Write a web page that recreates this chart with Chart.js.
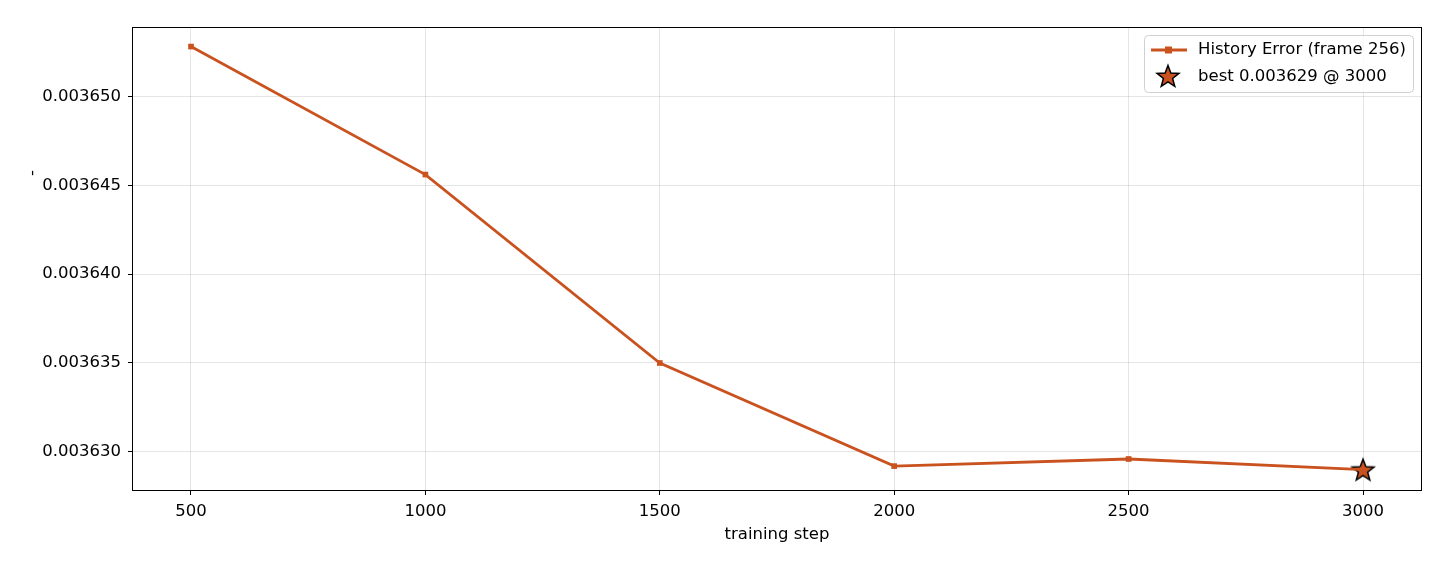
<!DOCTYPE html>
<html>
<head>
<meta charset="utf-8">
<script src="https://cdn.jsdelivr.net/npm/chart.js@4"></script>
<style>
  html, body { margin: 0; padding: 0; background: #fff; }
  #wrap { width: 1440px; height: 563px; }
</style>
</head>
<body>
<div id="wrap"><canvas id="chart" width="1440" height="563"></canvas></div>
<script>
const steps = [500, 1000, 1500, 2000, 2500, 3000];
const historyError = [0.0036528, 0.0036456, 0.003635, 0.0036292, 0.0036296, 0.003629];
const bestStep = 3000;
const bestValue = 0.003629;
const xTicks = [500, 1000, 1500, 2000, 2500, 3000];
const yTicks = [0.00363, 0.003635, 0.00364, 0.003645, 0.00365];

const lineColor = '#c9521f';
const font = 'DejaVu Sans';
const fontSize = 16.5;
Chart.defaults.font.family = font;
Chart.defaults.font.size = fontSize;
Chart.defaults.color = '#000';

// filled star used for the "best" point
function makeStar(size) {
  const c = document.createElement('canvas');
  c.width = size; c.height = size;
  const g = c.getContext('2d');
  const cx = size / 2, cy = size / 2 + 1, R = size / 2 - 1.5, r = R * 0.42;
  g.beginPath();
  for (let i = 0; i < 10; i++) {
    const rad = i % 2 === 0 ? R : r;
    const a = -Math.PI / 2 + i * Math.PI / 5;
    g.lineTo(cx + rad * Math.cos(a), cy + rad * Math.sin(a));
  }
  g.closePath();
  g.fillStyle = lineColor;
  g.fill();
  g.lineWidth = 1.5;
  g.strokeStyle = '#000';
  g.stroke();
  return c;
}
const star = makeStar(26);

const frame = {
  id: 'frame',
  afterDraw(chart) {
    const { ctx, chartArea: a } = chart;
    ctx.save();
    ctx.strokeStyle = '#000';
    ctx.lineWidth = 1;
    ctx.strokeRect(a.left + 0.5, a.top + 0.5, a.right - a.left - 1, a.bottom - a.top - 1);

    // y label
    ctx.save();
    ctx.translate(33, 173);
    ctx.rotate(-Math.PI / 2);
    ctx.font = fontSize + 'px ' + font;
    ctx.textAlign = 'center';
    ctx.textBaseline = 'middle';
    ctx.fillStyle = '#000';
    ctx.fillText('-', 0, 0);
    ctx.restore();

    // legend
    const lx = 1144, ly = 35, lw = 269, lh = 57;
    ctx.beginPath();
    ctx.roundRect(lx + 0.5, ly + 0.5, lw, lh, 4);
    ctx.fillStyle = 'rgba(255,255,255,0.8)';
    ctx.fill();
    ctx.strokeStyle = '#d0d0d0';
    ctx.stroke();
    ctx.strokeStyle = lineColor;
    ctx.lineWidth = 2.8;
    ctx.beginPath();
    ctx.moveTo(1151, 50);
    ctx.lineTo(1187, 50);
    ctx.stroke();
    ctx.fillStyle = lineColor;
    ctx.fillRect(1165, 46.5, 7, 7);
    ctx.drawImage(star, 1168 - 13, 77 - 14);
    ctx.fillStyle = '#000';
    ctx.font = fontSize + 'px ' + font;
    ctx.textBaseline = 'middle';
    ctx.textAlign = 'left';
    ctx.fillText('History Error (frame 256)', 1198, 50);
    ctx.fillText('best 0.003629 @ 3000', 1198, 77);
    ctx.restore();
  }
};

new Chart(document.getElementById('chart'), {
  type: 'line',
  data: {
    datasets: [
      {
        label: 'History Error (frame 256)',
        data: steps.map((s, i) => ({ x: s, y: historyError[i] })),
        borderColor: lineColor,
        backgroundColor: lineColor,
        borderWidth: 2.8,
        pointStyle: 'rect',
        pointRadius: 4,
        pointBorderWidth: 0,
        tension: 0
      },
      {
        label: 'best 0.003629 @ 3000',
        data: [{ x: bestStep, y: bestValue }],
        showLine: false,
        pointStyle: star,
        pointRadius: 13
      }
    ]
  },
  options: {
    responsive: false,
    animation: false,
    layout: { padding: { left: 0, right: 18, top: 27, bottom: 0 } },
    plugins: { legend: { display: false }, tooltip: { enabled: false } },
    scales: {
      x: {
        type: 'linear',
        min: 374.15,
        max: 3125.85,
        afterBuildTicks: s => { s.ticks = xTicks.map(v => ({ value: v })); },
        afterFit: s => { s.height = 72; },
        ticks: { padding: 7, maxRotation: 0, callback: v => String(v) },
        grid: { color: 'rgba(0,0,0,0.1)', tickColor: '#000', tickLength: 4, drawTicks: true },
        border: { display: false },
        title: { display: true, text: 'training step', padding: { top: 0, bottom: 18 } }
      },
      y: {
        min: 0.0036278,
        max: 0.0036539,
        afterBuildTicks: s => { s.ticks = yTicks.map(v => ({ value: v })); },
        afterFit: s => { s.width = 132; },
        ticks: { padding: 7, callback: v => v.toFixed(6) },
        grid: { color: 'rgba(0,0,0,0.1)', tickColor: '#000', tickLength: 4 },
        border: { display: false }
      }
    }
  },
  plugins: [frame]
});
</script>
</body>
</html>
